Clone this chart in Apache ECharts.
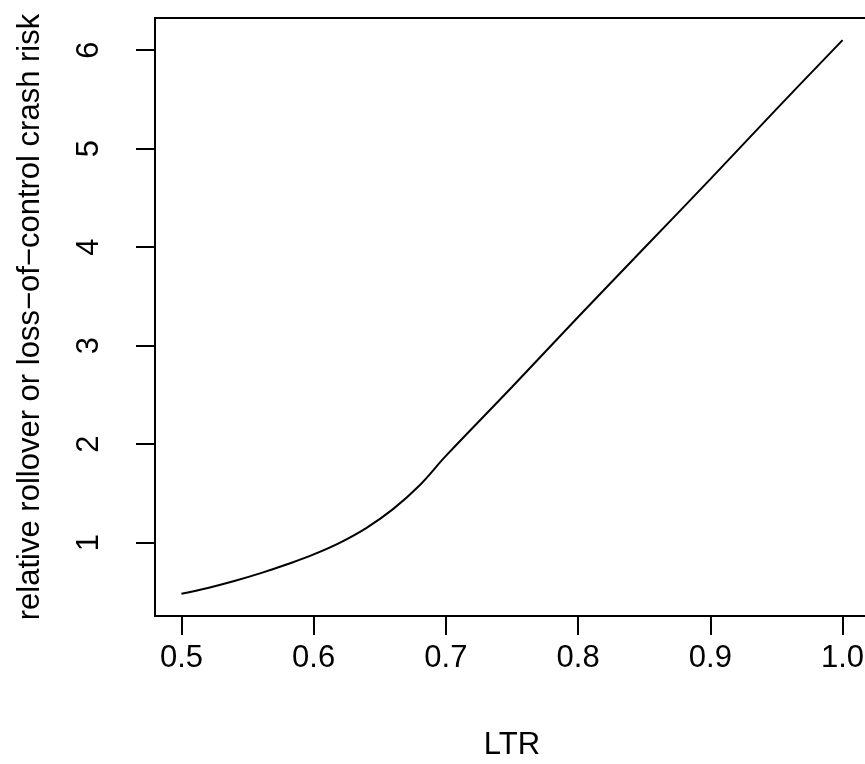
<!DOCTYPE html>
<html>
<head>
<meta charset="utf-8">
<script src="https://cdn.jsdelivr.net/npm/echarts@6.0.0/dist/echarts.min.js"></script>
<style>
  html, body { margin: 0; padding: 0; background: #fff; }
  #chart { width: 865px; height: 764px; }
</style>
</head>
<body>
<div id="chart"></div>
<script>
// values
const ltr = [0.50, 0.52, 0.54, 0.56, 0.58, 0.60, 0.62, 0.64, 0.66, 0.68, 0.70,
             0.75, 0.80, 0.85, 0.90, 0.95, 1.00];
const risk = [0.48, 0.54, 0.61, 0.69, 0.78, 0.88, 1.00, 1.15, 1.34, 1.58, 1.88,
              2.58, 3.29, 3.99, 4.69, 5.40, 6.10];

// tick positions
const xTicks = [0.5, 0.6, 0.7, 0.8, 0.9, 1.0];
const yTicks = [1, 2, 3, 4, 5, 6];

const font = 'Liberation Sans, Arial, Helvetica, sans-serif';
const fontSize = 31;

const container = document.getElementById('chart');
const chart = echarts.init(container, null, { renderer: 'canvas' });

const tickStyle = { color: '#000', width: 2 };

chart.setOption({
    animation: false,
    backgroundColor: '#fff',
    grid: {
        show: true,
        left: 155,
        top: 18,
        width: 714,
        height: 598,
        containLabel: false,
        outerBoundsMode: 'none',
        borderColor: '#000',
        borderWidth: 2,
        backgroundColor: 'transparent'
    },
    xAxis: {
        type: 'value',
        min: 0.48,
        max: 1.02,
        name: 'LTR',
        nameLocation: 'middle',
        nameGap: 114,
        nameTextStyle: { color: '#000', fontSize: fontSize, fontFamily: font },
        axisLine: { show: false },
        splitLine: { show: false },
        axisTick: {
            show: true,
            customValues: xTicks,
            length: 19,
            lineStyle: tickStyle
        },
        axisLabel: {
            customValues: xTicks,
            margin: 27,
            color: '#000',
            fontSize: fontSize,
            fontFamily: font,
            formatter: v => v.toFixed(1)
        }
    },
    yAxis: {
        type: 'value',
        min: 0.255,
        max: 6.325,
        name: 'relative rollover or loss\u2212of\u2212control crash risk',
        nameLocation: 'middle',
        nameGap: 109,
        nameTextStyle: { color: '#000', fontSize: fontSize, fontFamily: font },
        axisLine: { show: false },
        splitLine: { show: false },
        axisTick: {
            show: true,
            customValues: yTicks,
            length: 19,
            lineStyle: tickStyle
        },
        axisLabel: {
            customValues: yTicks,
            rotate: 90,
            margin: 50,
            color: '#000',
            fontSize: fontSize,
            fontFamily: font
        }
    },
    series: [{
        type: 'line',
        data: ltr.map((x, i) => [x, risk[i]]),
        showSymbol: false,
        smooth: 0.4,
        lineStyle: { color: '#000', width: 2 },
        itemStyle: { color: '#000' }
    }]
});
</script>
</body>
</html>
